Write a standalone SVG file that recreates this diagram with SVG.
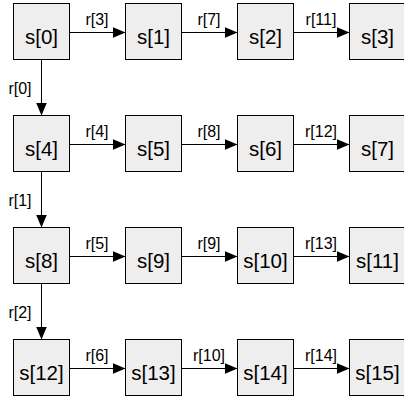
<svg xmlns="http://www.w3.org/2000/svg" width="404" height="402" viewBox="0 0 404 402">
<defs>
<marker id="ah" markerWidth="13" markerHeight="11" refX="13" refY="5.5" orient="auto" markerUnits="userSpaceOnUse">
<path d="M0,0 L13,5.5 L0,11 Z" fill="#000"/>
</marker>
<style>
.n rect{fill:#eeeeee;stroke:#000;stroke-width:1}
.n text{font-family:"Liberation Sans",Arial,sans-serif;font-size:20.5px;text-anchor:middle;fill:#000}
.c line{stroke:#000;stroke-width:1;marker-end:url(#ah)}
.c text{font-family:"Liberation Sans",Arial,sans-serif;font-size:16px;text-anchor:middle;fill:#000}
</style>
</defs>
<rect width="404" height="402" fill="#fff"/>
<g id="connectors" class="c">
<line x1="70" y1="32.5" x2="125.5" y2="32.5"/><text x="97" y="24.5">r[3]</text>
<line x1="182" y1="32.5" x2="237.5" y2="32.5"/><text x="209" y="24.5">r[7]</text>
<line x1="294" y1="32.5" x2="349.5" y2="32.5"/><text x="321" y="24.5">r[11]</text>
<line x1="70" y1="144.5" x2="125.5" y2="144.5"/><text x="97" y="136.5">r[4]</text>
<line x1="182" y1="144.5" x2="237.5" y2="144.5"/><text x="209" y="136.5">r[8]</text>
<line x1="294" y1="144.5" x2="349.5" y2="144.5"/><text x="321" y="136.5">r[12]</text>
<line x1="70" y1="256.5" x2="125.5" y2="256.5"/><text x="97" y="248.5">r[5]</text>
<line x1="182" y1="256.5" x2="237.5" y2="256.5"/><text x="209" y="248.5">r[9]</text>
<line x1="294" y1="256.5" x2="349.5" y2="256.5"/><text x="321" y="248.5">r[13]</text>
<line x1="70" y1="368.5" x2="125.5" y2="368.5"/><text x="97" y="360.5">r[6]</text>
<line x1="182" y1="368.5" x2="237.5" y2="368.5"/><text x="209" y="360.5">r[10]</text>
<line x1="294" y1="368.5" x2="349.5" y2="368.5"/><text x="321" y="360.5">r[14]</text>
<line x1="41.5" y1="60" x2="41.5" y2="115.5"/><text x="20" y="94">r[0]</text>
<line x1="41.5" y1="172" x2="41.5" y2="227.5"/><text x="20" y="206">r[1]</text>
<line x1="41.5" y1="284" x2="41.5" y2="339.5"/><text x="20" y="318">r[2]</text>
</g>
<g id="s0" class="n"><rect x="13.5" y="3.5" width="56" height="56"/><text x="41.5" y="44">s[0]</text></g>
<g id="s1" class="n"><rect x="125.5" y="3.5" width="56" height="56"/><text x="153.5" y="44">s[1]</text></g>
<g id="s2" class="n"><rect x="237.5" y="3.5" width="56" height="56"/><text x="265.5" y="44">s[2]</text></g>
<g id="s3" class="n"><rect x="349.5" y="3.5" width="56" height="56"/><text x="377.5" y="44">s[3]</text></g>
<g id="s4" class="n"><rect x="13.5" y="115.5" width="56" height="56"/><text x="41.5" y="156">s[4]</text></g>
<g id="s5" class="n"><rect x="125.5" y="115.5" width="56" height="56"/><text x="153.5" y="156">s[5]</text></g>
<g id="s6" class="n"><rect x="237.5" y="115.5" width="56" height="56"/><text x="265.5" y="156">s[6]</text></g>
<g id="s7" class="n"><rect x="349.5" y="115.5" width="56" height="56"/><text x="377.5" y="156">s[7]</text></g>
<g id="s8" class="n"><rect x="13.5" y="227.5" width="56" height="56"/><text x="41.5" y="268">s[8]</text></g>
<g id="s9" class="n"><rect x="125.5" y="227.5" width="56" height="56"/><text x="153.5" y="268">s[9]</text></g>
<g id="s10" class="n"><rect x="237.5" y="227.5" width="56" height="56"/><text x="265.5" y="268">s[10]</text></g>
<g id="s11" class="n"><rect x="349.5" y="227.5" width="56" height="56"/><text x="377.5" y="268">s[11]</text></g>
<g id="s12" class="n"><rect x="13.5" y="339.5" width="56" height="56"/><text x="41.5" y="380">s[12]</text></g>
<g id="s13" class="n"><rect x="125.5" y="339.5" width="56" height="56"/><text x="153.5" y="380">s[13]</text></g>
<g id="s14" class="n"><rect x="237.5" y="339.5" width="56" height="56"/><text x="265.5" y="380">s[14]</text></g>
<g id="s15" class="n"><rect x="349.5" y="339.5" width="56" height="56"/><text x="377.5" y="380">s[15]</text></g>
</svg>
